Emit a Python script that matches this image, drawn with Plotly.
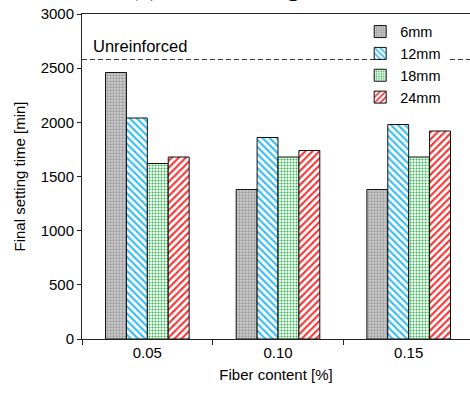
import plotly.graph_objects as go

categories = ["0.05", "0.10", "0.15"]
series_names = ["6mm", "12mm", "18mm", "24mm"]
values_6mm = [2460, 1380, 1380]
values_12mm = [2040, 1860, 1980]
values_18mm = [1620, 1680, 1680]
values_24mm = [1680, 1740, 1920]
unreinforced = 2580
y_ticks = [0, 500, 1000, 1500, 2000, 2500, 3000]

series_values = [values_6mm, values_12mm, values_18mm, values_24mm]
styles = [
    dict(shape=".", fg="#9a9a9a", bg="#d0d0d0", size=3, sol=0.45),
    dict(shape="\\", fg="#3dbdf0", bg="#ffffff", size=5, sol=0.45),
    dict(shape=".", fg="#2db34f", bg="#f4fbf4", size=3, sol=0.35),
    dict(shape="/", fg="#f03c3c", bg="#ffffff", size=5, sol=0.45),
]

fig = go.Figure()
for name, vals, st in zip(series_names, series_values, styles):
    fig.add_trace(go.Bar(
        x=categories, y=vals, name=name,
        marker=dict(
            color=st["bg"],
            line=dict(color="#111111", width=1),
            pattern=dict(shape=st["shape"], fgcolor=st["fg"], bgcolor=st["bg"],
                         size=st["size"], solidity=st["sol"], fillmode="replace"),
        ),
    ))

fig.add_shape(type="line", xref="paper", yref="y", x0=0, x1=1,
              y0=unreinforced, y1=unreinforced,
              line=dict(color="#333333", width=1, dash="5px,3px"), layer="above")
fig.add_shape(type="rect", xref="paper", yref="y", x0=0.773, x1=0.941,
              y0=unreinforced - 60, y1=unreinforced + 60,
              fillcolor="white", line=dict(width=0), layer="above")

fig.add_annotation(text="Unreinforced", xref="paper", yref="y", x=0.024, y=unreinforced,
                   xanchor="left", yanchor="bottom", yshift=3, showarrow=False,
                   font=dict(family="Liberation Sans, Arial", size=16.5, color="#000000"))
fig.add_annotation(text="(a) Final setting time", xref="paper", yref="paper",
                   x=(127 - 82) / 388, y=1 + 10.5 / 325, xanchor="left", yanchor="bottom",
                   showarrow=False,
                   font=dict(family="Liberation Serif, Times New Roman", size=27, color="#000000"))

axis_font = dict(family="Liberation Sans, Arial", size=15, color="#000000")
fig.update_layout(
    width=470, height=397,
    margin=dict(l=82, r=0, t=14, b=58),
    paper_bgcolor="white", plot_bgcolor="white",
    barmode="group", bargap=0.36, bargroupgap=0,
    font=axis_font,
    showlegend=True,
    legend=dict(x=0.717, y=0.995, xanchor="left", yanchor="top",
                bgcolor="rgba(0,0,0,0)", borderwidth=0,
                font=dict(family="Liberation Sans, Arial", size=14.5, color="#000000"),
                itemwidth=30, tracegroupgap=0),
    xaxis=dict(type="category", range=[-0.5, -0.5 + 388 / 130.67],
               showline=True, linecolor="#222222", linewidth=1, mirror=True,
               ticks="outside", tickson="boundaries", ticklen=5, tickcolor="#222222",
               showgrid=False, zeroline=False,
               title=dict(text="Fiber content [%]", standoff=9, font=axis_font),
               tickfont=axis_font),
    yaxis=dict(range=[0, 3000], tickvals=y_ticks, showline=True, linecolor="#222222",
               linewidth=1, ticks="outside", ticklen=4, tickcolor="#222222",
               showgrid=False, zeroline=False,
               title=dict(text="Final setting time [min]", standoff=11, font=axis_font),
               tickfont=axis_font),
)

fig.write_html("out.html")
